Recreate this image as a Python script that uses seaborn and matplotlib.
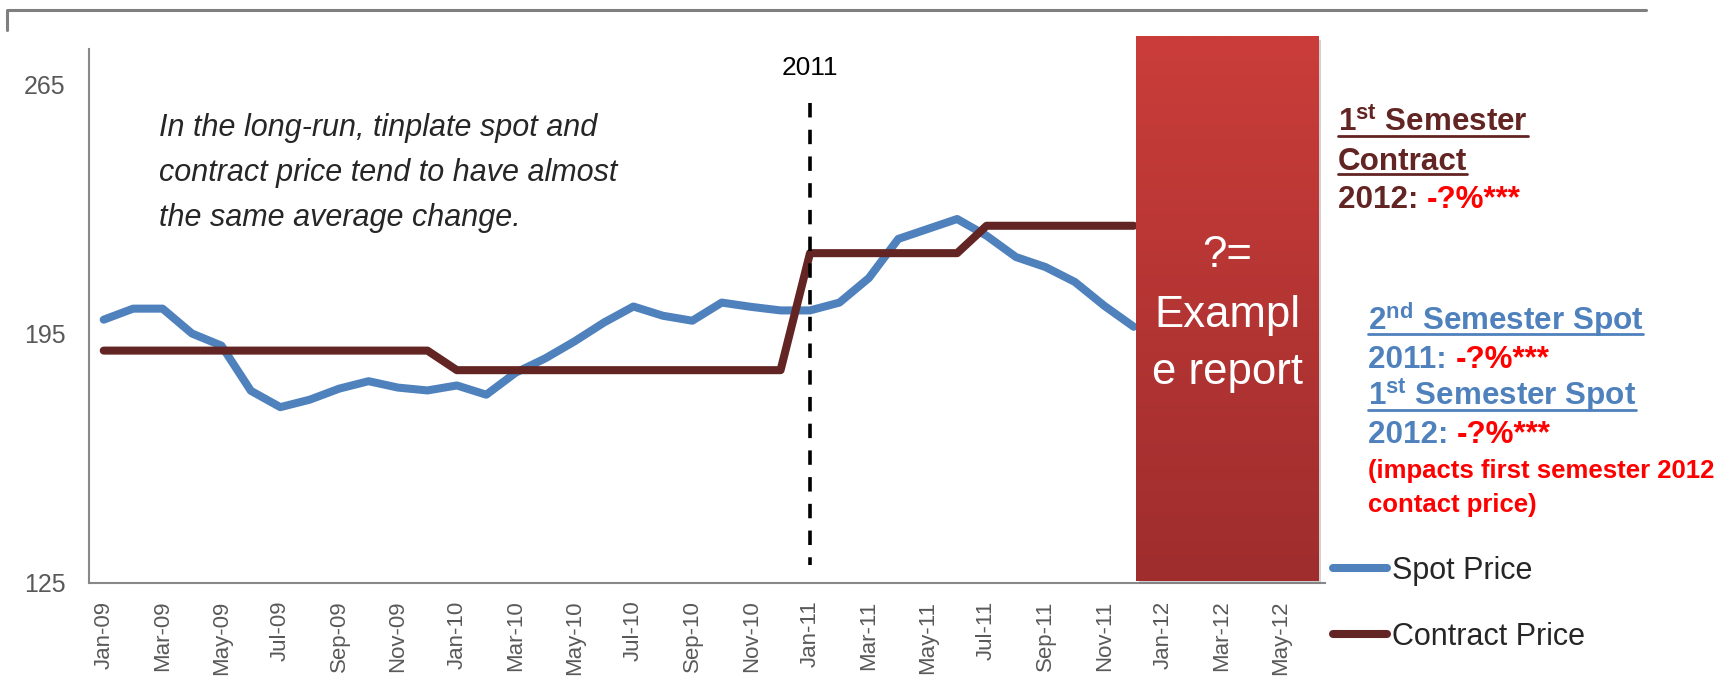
import numpy as np
import pandas as pd
import seaborn as sns
import matplotlib.pyplot as plt
from matplotlib import font_manager
from matplotlib.colors import LinearSegmentedColormap
from matplotlib.lines import Line2D
from matplotlib.patches import Rectangle
from matplotlib.transforms import IdentityTransform

# monthly categories Jan-09 .. Jun-12
months = list(pd.date_range('2009-01-01', '2012-06-01', freq='MS').strftime('%b-%y'))

# prices (Jan-09 .. Dec-11)
spot = [198.9, 202.0, 202.0, 195.0, 191.6, 178.9, 174.3, 176.4, 179.5, 181.6,
        179.8, 179.0, 180.4, 177.8, 184.0, 188.0, 192.8, 198.1, 202.6, 200.0,
        198.6, 203.7, 202.5, 201.5, 201.5, 203.7, 210.6, 221.6, 224.4, 227.2,
        222.5, 216.5, 213.7, 209.5, 202.8, 196.9]
contract = [190.2] * 12 + [184.7] * 12 + [217.6] * 6 + [225.3] * 6
y_ticks = [125, 195, 265]

BLUE = '#4F81BD'
BROWN = '#632523'
RED = '#FF0000'
GREY = '#595959'

W, H = 1729, 684


def fx(x):
    return x / W


def fy(y):
    return 1 - y / H


sns.set_style('white')
plt.rcParams['font.family'] = ['Liberation Sans', 'DejaVu Sans']
plt.rcParams['mathtext.fontset'] = 'custom'
plt.rcParams['mathtext.rm'] = 'Liberation Sans'
plt.rcParams['mathtext.bf'] = 'Liberation Sans:bold'

available = {f.name for f in font_manager.fontManager.ttflist}
if 'Liberation Sans Narrow' in available:
    NARROW, nscale = 'Liberation Sans Narrow', 1.0
else:
    NARROW, nscale = 'Liberation Sans', 0.9

df = pd.DataFrame({'month': range(len(spot)), 'Spot Price': spot, 'Contract Price': contract})
df = df.melt(id_vars='month', var_name='series', value_name='price')

fig = plt.figure(figsize=(W / 100, H / 100), dpi=100)
ax = fig.add_axes([fx(89), fy(582.5), (1325 - 89) / W, 533.5 / H])

sns.lineplot(data=df, x='month', y='price', hue='series',
             palette={'Spot Price': BLUE, 'Contract Price': BROWN},
             linewidth=5.8, errorbar=None, ax=ax,
             solid_capstyle='round', solid_joinstyle='round')

# dashed marker at the start of 2011
x11 = months.index('Jan-11')
ax.plot([x11, x11], [259.8, 130], color='black', lw=2.6, dashes=(4, 3.4), zorder=3)
ax.text(x11, 269.6, '2011', ha='center', va='center', fontsize=21 * nscale,
        family=NARROW, color='black')

# red "example report" block
x0, x1, b0, b1 = 35.08, 41.27, 125.4, 278.4
ax.add_patch(Rectangle((x0 + 0.1, b0 - 0.9), x1 - x0, b1 - b0, facecolor='#7f7f7f',
                       alpha=0.35, edgecolor='none', zorder=4, clip_on=False))
grad = np.linspace(0, 1, 256).reshape(-1, 1)
cmap = LinearSegmentedColormap.from_list('box', ['#9F2D2D', '#CA3D3A'])
ax.imshow(grad, extent=[x0, x1, b0, b1], origin='lower', cmap=cmap,
          aspect='auto', zorder=5, clip_on=False)

ax.set_xlim(-0.5, len(months) - 0.5)
ax.set_ylim(125, 275)
ax.set_yticks(y_ticks)
ax.set_xticks(range(0, len(months), 2))
ax.set_xticklabels(months[::2], rotation=90)
ax.set_xlabel('')
ax.set_ylabel('')
ax.tick_params(axis='x', length=0, pad=13, labelsize=16, labelcolor=GREY)
ax.tick_params(axis='y', length=0, pad=17, labelsize=20 * nscale, labelcolor=GREY)
for lbl in ax.get_yticklabels():
    lbl.set_family(NARROW)
sns.despine(ax=ax)
for s in ['left', 'bottom']:
    ax.spines[s].set_color('#888888')
    ax.spines[s].set_linewidth(1.5)

handles, labels = ax.get_legend_handles_labels()
ax.legend(handles, labels, loc='center left', bbox_to_anchor=(1.0065, -0.04),
          frameon=False, fontsize=22, handlelength=1.76, handletextpad=0.16,
          labelspacing=1.19, borderpad=0, borderaxespad=0)

# top frame line
fig.add_artist(Line2D([7, 7, 1646], [H - 30, H - 10, H - 10], transform=IdentityTransform(),
                      color='#7F7F7F', lw=2.2))

# commentary text
note = ['In the long-run, tinplate spot and',
        'contract price tend to have almost',
        'the same average change.']
for line, yb in zip(note, [136, 181, 226]):
    fig.text(fx(159), fy(yb), line, style='italic', fontsize=22, va='baseline', ha='left')

for line, yb in zip(['?=', 'Exampl', 'e report'], [267, 327, 384]):
    fig.text(fx(1227), fy(yb), line, color='white', fontsize=35 * nscale, family=NARROW,
             va='baseline', ha='center', zorder=6)

underlined = []


def label(x, yb, s, color, size=22.6, under=False):
    t = fig.text(fx(x), fy(yb), s, color=color, fontsize=size, weight='bold',
                 va='baseline', ha='left')
    if under:
        underlined.append((t, yb, color))
    return t


def pct(x, yb, head, color):
    t = label(x, yb, head, color)
    ax.annotate('-?%***', xy=(1, 0), xycoords=t, va='bottom', ha='left',
                color=RED, fontsize=22.6, weight='bold', annotation_clip=False)


label(1338, 132, r'1$^{\mathbf{st}}$ Semester', BROWN, under=True)
label(1338, 170, 'Contract', BROWN, under=True)
pct(1338, 208, '2012: ', BROWN)

label(1368, 330, r'2$^{\mathbf{nd}}$ Semester Spot', BLUE, under=True)
pct(1368, 368, '2011: ', BLUE)
label(1368, 406, r'1$^{\mathbf{st}}$ Semester Spot', BLUE, under=True)
pct(1368, 443, '2012: ', BLUE)
label(1368, 478, '(impacts first semester 2012', RED, size=18.5)
label(1368, 512, 'contact price)', RED, size=18.5)

fig.canvas.draw()
for t, yb, color in underlined:
    bb = t.get_window_extent()
    fig.add_artist(Line2D([bb.x0, bb.x1], [H - yb - 4, H - yb - 4],
                          transform=IdentityTransform(), color=color, lw=2))

fig.savefig('out.png', dpi=100, facecolor='white')
